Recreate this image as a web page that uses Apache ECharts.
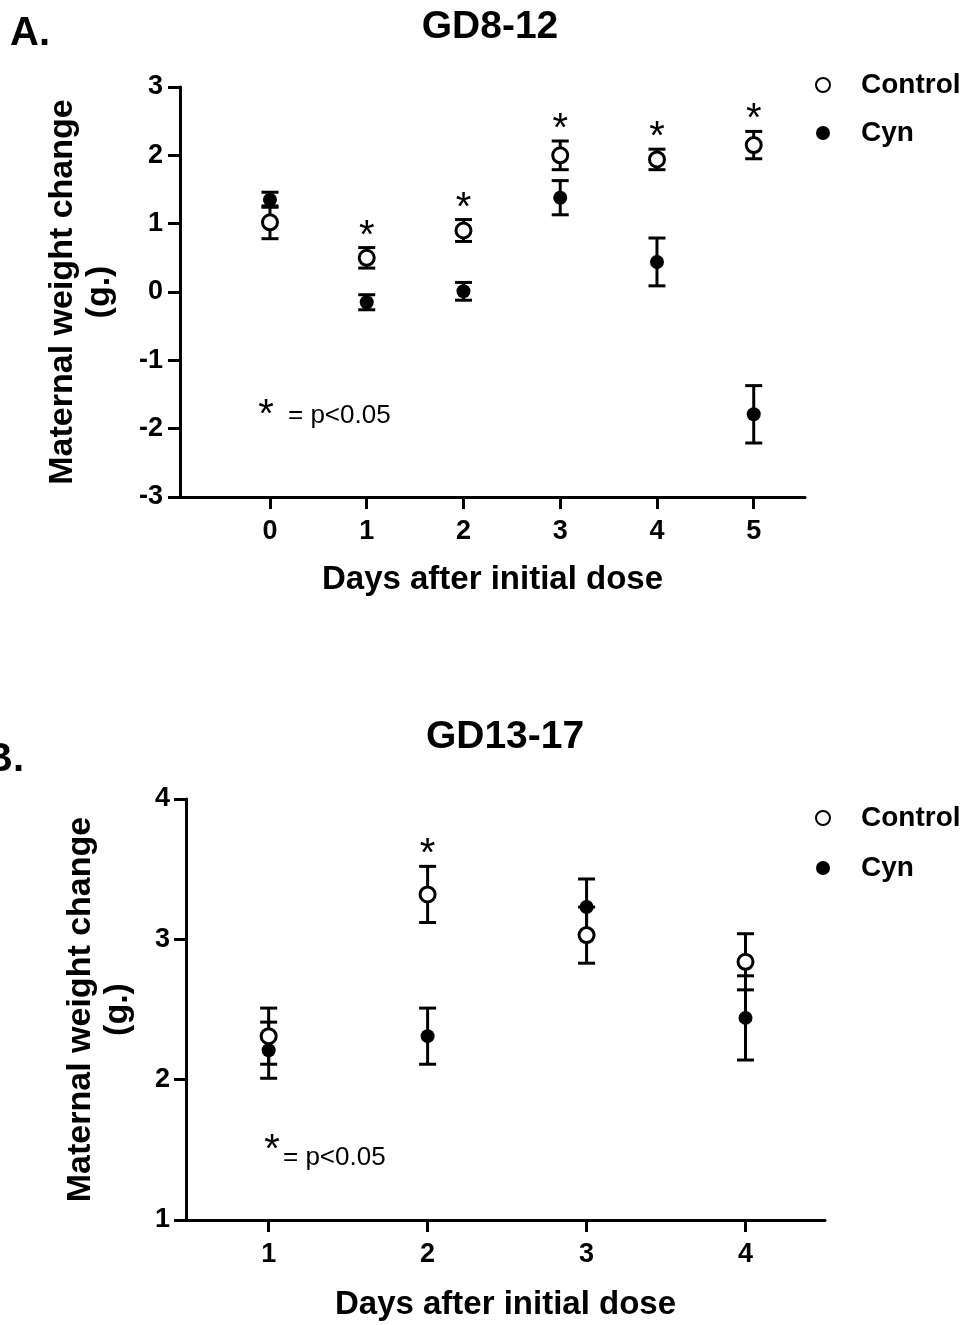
<!DOCTYPE html>
<html>
<head>
<meta charset="utf-8">
<script src="https://cdn.jsdelivr.net/npm/echarts@6/dist/echarts.min.js"></script>
<style>
  html, body { margin: 0; padding: 0; background: #fff; }
  #main { width: 974px; height: 1325px; }
</style>
</head>
<body>
<div id="main"></div>
<script>
// panel A: GD8-12
var daysA = [0, 1, 2, 3, 4, 5];
var ctrlA = [1.02, 0.5, 0.9, 2.0, 1.94, 2.15];
var ctrlErrA = [0.24, 0.15, 0.16, 0.21, 0.15, 0.2];
var cynA = [1.35, -0.15, 0.01, 1.38, 0.44, -1.79];
var cynErrA = [0.11, 0.11, 0.13, 0.25, 0.35, 0.42];
var sigA = [1, 2, 3, 4, 5];

// panel B: GD13-17
var daysB = [1, 2, 3, 4];
var ctrlB = [2.31, 3.32, 3.03, 2.84];
var ctrlErrB = [0.2, 0.2, 0.2, 0.2];
var cynB = [2.21, 2.31, 3.23, 2.44];
var cynErrB = [0.2, 0.2, 0.2, 0.3];
var sigB = [2];

var FONT = 'Liberation Sans, Arial, sans-serif';

function pts(x, y) {
  return x.map(function (d, i) { return [d, y[i]]; });
}
function bars(x, y, e) {
  return x.map(function (d, i) { return [d, y[i] - e[i], y[i] + e[i]]; });
}
function stars(sig, x, y, e) {
  return sig.map(function (d) {
    var i = x.indexOf(d);
    return [d, y[i] + e[i]];
  });
}

function errRender(params, api) {
  var lo = api.coord([api.value(0), api.value(1)]);
  var hi = api.coord([api.value(0), api.value(2)]);
  var w = 8.5;
  var st = { stroke: '#000', lineWidth: 3 };
  return {
    type: 'group',
    children: [
      { type: 'line', shape: { x1: lo[0], y1: lo[1], x2: hi[0], y2: hi[1] }, style: st },
      { type: 'line', shape: { x1: lo[0] - w, y1: lo[1], x2: lo[0] + w, y2: lo[1] }, style: st },
      { type: 'line', shape: { x1: hi[0] - w, y1: hi[1], x2: hi[0] + w, y2: hi[1] }, style: st }
    ]
  };
}
// asterisk above the upper error cap of control
function starRender(params, api) {
  var p = api.coord([api.value(0), api.value(1)]);
  return {
    type: 'text',
    x: p[0], y: p[1] - 11,
    style: { text: '*', fontSize: 40, fontFamily: FONT, fill: '#000', align: 'center', verticalAlign: 'middle' }
  };
}

var axisLine = { onZero: false, lineStyle: { color: '#000', width: 3 } };
var axisTick = { length: 12, lineStyle: { color: '#000', width: 3 } };
var tickLabel = { color: '#000', fontSize: 27, fontWeight: 'bold', fontFamily: FONT };
var nameX = { color: '#000', fontSize: 33, fontWeight: 'bold', fontFamily: FONT };
var nameY = { color: '#000', fontSize: 34, fontWeight: 'bold', fontFamily: FONT, lineHeight: 37 };
var legText = { color: '#000', fontSize: 28, fontWeight: 'bold', fontFamily: FONT, padding: [0, 0, 0, 26] };

var ctrlStyle = { color: '#fff', borderColor: '#000', borderWidth: 3, opacity: 1 };
var cynStyle = { color: '#000', opacity: 1 };

var myChart = echarts.init(document.getElementById('main'));
var option = {
  animation: false,
  backgroundColor: '#fff',
  grid: [
    { left: 180, top: 87, width: 625, height: 410 },
    { left: 186, top: 799, width: 639, height: 421 }
  ],
  xAxis: [
    {
      gridIndex: 0, type: 'value', min: -0.93, max: 5.53,
      axisLine: axisLine,
      axisTick: Object.assign({ customValues: daysA }, axisTick),
      axisLabel: Object.assign({ customValues: daysA, margin: 21 }, tickLabel),
      splitLine: { show: false },
      name: 'Days after initial dose', nameLocation: 'middle', nameGap: 66, nameTextStyle: nameX
    },
    {
      gridIndex: 1, type: 'value', min: 0.48, max: 4.5,
      axisLine: axisLine,
      axisTick: Object.assign({ customValues: daysB }, axisTick),
      axisLabel: Object.assign({ customValues: daysB, margin: 21 }, tickLabel),
      splitLine: { show: false },
      name: 'Days after initial dose', nameLocation: 'middle', nameGap: 68, nameTextStyle: nameX
    }
  ],
  yAxis: [
    {
      gridIndex: 0, type: 'value', min: -3, max: 3, interval: 1,
      axisLine: axisLine, axisTick: axisTick,
      axisLabel: Object.assign({ margin: 17 }, tickLabel),
      splitLine: { show: false },
      name: 'Maternal weight change\n(g.)', nameLocation: 'middle', nameGap: 62, nameTextStyle: nameY
    },
    {
      gridIndex: 1, type: 'value', min: 1, max: 4, interval: 1,
      axisLine: axisLine, axisTick: axisTick,
      axisLabel: Object.assign({ margin: 16 }, tickLabel),
      splitLine: { show: false },
      name: 'Maternal weight change\n(g.)', nameLocation: 'middle', nameGap: 50, nameTextStyle: nameY
    }
  ],
  legend: [
    {
      orient: 'vertical', left: 810, top: 66, itemGap: 20, itemWidth: 14, itemHeight: 14,
      textStyle: legText, data: ['Control', 'Cyn']
    },
    {
      orient: 'vertical', left: 810, top: 799, itemGap: 22, itemWidth: 14, itemHeight: 14,
      textStyle: legText, data: ['Control', 'Cyn']
    }
  ],
  graphic: [
    { type: 'text', x: 10, y: 34, style: { text: 'A.', fontSize: 40, fontWeight: 'bold', fontFamily: FONT, fill: '#000', verticalAlign: 'middle' } },
    { type: 'text', x: -16, y: 760, style: { text: 'B.', fontSize: 40, fontWeight: 'bold', fontFamily: FONT, fill: '#000', verticalAlign: 'middle' } },
    { type: 'text', x: 490, y: 27, style: { text: 'GD8-12', fontSize: 39, fontWeight: 'bold', fontFamily: FONT, fill: '#000', align: 'center', verticalAlign: 'middle' } },
    { type: 'text', x: 505, y: 737, style: { text: 'GD13-17', fontSize: 39, fontWeight: 'bold', fontFamily: FONT, fill: '#000', align: 'center', verticalAlign: 'middle' } },
    { type: 'text', x: 266, y: 416, style: { text: '*', fontSize: 40, fontFamily: FONT, fill: '#000', align: 'center', verticalAlign: 'middle' } },
    { type: 'text', x: 288, y: 416, style: { text: '= p<0.05', fontSize: 26, fontFamily: FONT, fill: '#000', verticalAlign: 'middle' } },
    { type: 'text', x: 272, y: 1151, style: { text: '*', fontSize: 40, fontFamily: FONT, fill: '#000', align: 'center', verticalAlign: 'middle' } },
    { type: 'text', x: 283, y: 1158, style: { text: '= p<0.05', fontSize: 26, fontFamily: FONT, fill: '#000', verticalAlign: 'middle' } }
  ],
  series: [
    { type: 'custom', xAxisIndex: 0, yAxisIndex: 0, renderItem: errRender, data: bars(daysA, cynA, cynErrA), z: 2 },
    { type: 'custom', xAxisIndex: 0, yAxisIndex: 0, renderItem: errRender, data: bars(daysA, ctrlA, ctrlErrA), z: 2 },
    { type: 'custom', xAxisIndex: 0, yAxisIndex: 0, renderItem: starRender, data: stars(sigA, daysA, ctrlA, ctrlErrA), z: 2 },
    { name: 'Cyn', type: 'scatter', xAxisIndex: 0, yAxisIndex: 0, symbol: 'circle', symbolSize: 14, itemStyle: cynStyle, data: pts(daysA, cynA), z: 3 },
    { name: 'Control', type: 'scatter', xAxisIndex: 0, yAxisIndex: 0, symbol: 'circle', symbolSize: 15, itemStyle: ctrlStyle, data: pts(daysA, ctrlA), z: 4 },

    { type: 'custom', xAxisIndex: 1, yAxisIndex: 1, renderItem: errRender, data: bars(daysB, cynB, cynErrB), z: 2 },
    { type: 'custom', xAxisIndex: 1, yAxisIndex: 1, renderItem: errRender, data: bars(daysB, ctrlB, ctrlErrB), z: 2 },
    { type: 'custom', xAxisIndex: 1, yAxisIndex: 1, renderItem: starRender, data: stars(sigB, daysB, ctrlB, ctrlErrB), z: 2 },
    { name: 'Cyn', type: 'scatter', xAxisIndex: 1, yAxisIndex: 1, symbol: 'circle', symbolSize: 14, itemStyle: cynStyle, data: pts(daysB, cynB), z: 3 },
    { name: 'Control', type: 'scatter', xAxisIndex: 1, yAxisIndex: 1, symbol: 'circle', symbolSize: 15, itemStyle: ctrlStyle, data: pts(daysB, ctrlB), z: 4 }
  ]
};
myChart.setOption(option);
</script>
</body>
</html>
